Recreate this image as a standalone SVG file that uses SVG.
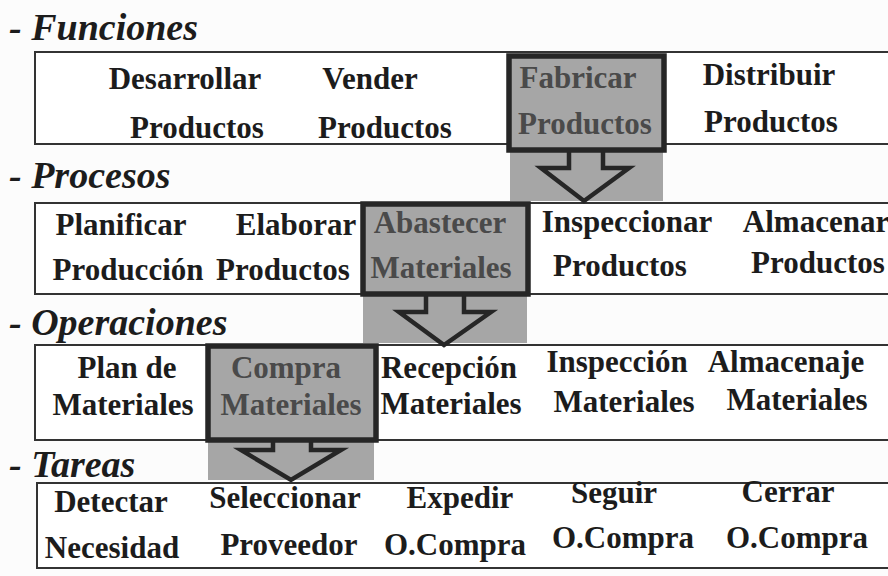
<svg xmlns="http://www.w3.org/2000/svg" width="888" height="576" viewBox="0 0 888 576">
<style>
.hdr{font-family:"Liberation Serif","Times New Roman",serif;font-weight:bold;font-style:italic;font-size:38px;fill:#1c1c1c}
.t{font-family:"Liberation Serif","Times New Roman",serif;font-weight:bold;font-size:31px;fill:#1c1c1c;text-anchor:middle}
.tg{font-family:"Liberation Serif","Times New Roman",serif;font-weight:bold;font-size:31px;fill:#4a4a4a;text-anchor:middle}
.row{fill:#ffffff;stroke:#333333;stroke-width:2}
.hl{fill:#a6a6a6;stroke:#262626;stroke-width:5.5}
.col{fill:#a6a6a6;stroke:none}
.arr{fill:#a6a6a6;stroke:#262626;stroke-width:4.5;stroke-linejoin:miter}
</style>
<rect width="888" height="576" fill="#fcfcfc"/>

<g id="headers">
<text class="hdr" x="9" y="40">- Funciones</text>
<text class="hdr" x="9" y="188">- Procesos</text>
<text class="hdr" x="9" y="335">- Operaciones</text>
<text class="hdr" x="9" y="477">- Tareas</text>
</g>

<g id="rows">
<rect id="row-funciones" class="row" x="35" y="52" width="880" height="92"/>
<rect id="row-procesos" class="row" x="35" y="203" width="880" height="91"/>
<rect id="row-operaciones" class="row" x="35" y="345" width="880" height="95"/>
<rect id="row-tareas" class="row" x="37" y="483" width="880" height="85"/>
</g>

<g id="connectors">
<rect class="col" x="510" y="150" width="153" height="51"/>
<rect class="col" x="363" y="294" width="164" height="49"/>
<rect class="col" x="208" y="440" width="166" height="40"/>
<polyline class="arr" points="569,150 569,168 541,168 584,201 629,168 603,168 603,150"/>
<polyline class="arr" points="426,294 426,312 399,312 444,345 491,312 464,312 464,294"/>
<polyline class="arr" points="273,440 273,450 241,450 291,480 341,450 311,450 311,440"/>
</g>

<g id="n-desarrollar"><text class="t" x="185" y="89">Desarrollar</text><text class="t" x="197" y="138">Productos</text></g>
<g id="n-vender"><text class="t" x="370" y="89">Vender</text><text class="t" x="385" y="138">Productos</text></g>
<g id="n-fabricar"><rect class="hl" x="509" y="56" width="155" height="94"/><text class="tg" x="578" y="88">Fabricar</text><text class="tg" x="585" y="134">Productos</text></g>
<g id="n-distribuir"><text class="t" x="769" y="85">Distribuir</text><text class="t" x="771" y="132">Productos</text></g>

<g id="n-planificar"><text class="t" x="121" y="235">Planificar</text><text class="t" x="128" y="280">Producción</text></g>
<g id="n-elaborar"><text class="t" x="296" y="235">Elaborar</text><text class="t" x="283" y="280">Productos</text></g>
<g id="n-abastecer"><rect class="hl" x="363" y="204" width="165" height="90"/><text class="tg" x="440" y="233">Abastecer</text><text class="tg" x="441" y="278">Materiales</text></g>
<g id="n-inspeccionar"><text class="t" x="627" y="232">Inspeccionar</text><text class="t" x="620" y="276">Productos</text></g>
<g id="n-almacenar"><text class="t" x="816" y="232">Almacenar</text><text class="t" x="818" y="273">Productos</text></g>

<g id="n-plan"><text class="t" x="127" y="378">Plan de</text><text class="t" x="123" y="415">Materiales</text></g>
<g id="n-compra"><rect class="hl" x="208" y="346" width="168" height="94"/><text class="tg" x="286" y="378">Compra</text><text class="tg" x="291" y="415">Materiales</text></g>
<g id="n-recepcion"><text class="t" x="449" y="378">Recepción</text><text class="t" x="451" y="414">Materiales</text></g>
<g id="n-inspeccion"><text class="t" x="617" y="372">Inspección</text><text class="t" x="624" y="412">Materiales</text></g>
<g id="n-almacenaje"><text class="t" x="786" y="372">Almacenaje</text><text class="t" x="797" y="410">Materiales</text></g>

<g id="n-detectar"><text class="t" x="111" y="512">Detectar</text><text class="t" x="112" y="558">Necesidad</text></g>
<g id="n-seleccionar"><text class="t" x="285" y="508">Seleccionar</text><text class="t" x="289" y="555">Proveedor</text></g>
<g id="n-expedir"><text class="t" x="460" y="508">Expedir</text><text class="t" x="455" y="555">O.Compra</text></g>
<g id="n-seguir"><text class="t" x="614" y="503">Seguir</text><text class="t" x="623" y="548">O.Compra</text></g>
<g id="n-cerrar"><text class="t" x="788" y="502">Cerrar</text><text class="t" x="797" y="548">O.Compra</text></g>
</svg>
